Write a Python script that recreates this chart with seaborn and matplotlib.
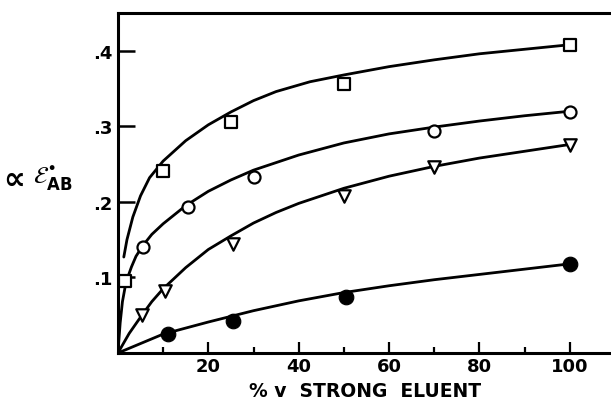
import numpy as np
import pandas as pd
import matplotlib
matplotlib.use("Agg")
import matplotlib.pyplot as plt
import seaborn as sns

sns.set_style("ticks")
plt.rcParams["font.family"] = ["DejaVu Sans"]
plt.rcParams["text.color"] = "black"
plt.rcParams["axes.labelcolor"] = "black"
plt.rcParams["xtick.color"] = "black"
plt.rcParams["ytick.color"] = "black"
plt.rcParams["axes.edgecolor"] = "black"

sq_x = [1.5, 10, 25, 50, 100]
sq_y = [0.095, 0.241, 0.306, 0.356, 0.407]
ci_x = [5.5, 15.5, 30, 70, 100]
ci_y = [0.140, 0.193, 0.233, 0.294, 0.319]
tr_x = [5.3, 10.4, 25.4, 50, 70, 100]
tr_y = [0.050, 0.082, 0.144, 0.208, 0.246, 0.275]
fc_x = [11, 25.5, 50.4, 100]
fc_y = [0.025, 0.042, 0.074, 0.118]

# drawn curves, traced by eye
sq_cx = [1.3, 2, 3.3, 5, 7, 10, 15, 20, 25, 30, 35, 42.5, 50, 60, 70, 80, 90, 100]
sq_cy = [0.127, 0.150, 0.180, 0.208, 0.232, 0.254, 0.281, 0.302, 0.319, 0.334,
         0.346, 0.359, 0.368, 0.379, 0.388, 0.396, 0.402, 0.408]
ci_cx = [0, 0.5, 1, 1.8, 3, 4, 5.5, 7.5, 10, 15, 20, 25, 30, 40, 50, 60, 70, 80,
         90, 100]
ci_cy = [0.0, 0.040, 0.068, 0.094, 0.114, 0.128, 0.142, 0.157, 0.171, 0.195,
         0.214, 0.229, 0.242, 0.262, 0.278, 0.290, 0.299, 0.307, 0.314, 0.320]
tr_cx = [0, 2.5, 5.3, 7.5, 10, 15, 20, 25, 30, 35, 40, 50, 60, 70, 80, 90, 100]
tr_cy = [0.0, 0.026, 0.050, 0.068, 0.085, 0.113, 0.137, 0.155, 0.172, 0.186,
         0.198, 0.218, 0.234, 0.247, 0.258, 0.267, 0.276]
fc_cx = [0, 10, 20, 30, 40, 50, 60, 70, 80, 90, 100]
fc_cy = [0.0, 0.025, 0.041, 0.056, 0.069, 0.080, 0.089, 0.097, 0.104, 0.111, 0.118]

fig = plt.figure(figsize=(6.11, 4.02), dpi=100)
ax = fig.add_axes([0.193, 0.1194, 0.807, 0.8458])

for cx, cy in [(sq_cx, sq_cy), (ci_cx, ci_cy), (tr_cx, tr_cy), (fc_cx, fc_cy)]:
    sns.lineplot(x=cx, y=cy, ax=ax, color="black", linewidth=2, sort=False)

sns.scatterplot(x=sq_x, y=sq_y, ax=ax, marker="s", s=70, facecolor="white",
                edgecolor="black", linewidth=1.6, zorder=5)
sns.scatterplot(x=ci_x, y=ci_y, ax=ax, marker="o", s=75, facecolor="white",
                edgecolor="black", linewidth=1.6, zorder=5)
sns.scatterplot(x=tr_x, y=tr_y, ax=ax, marker="v", s=80, facecolor="white",
                edgecolor="black", linewidth=1.6, zorder=5)
sns.scatterplot(x=fc_x, y=fc_y, ax=ax, marker="o", s=110, color="black",
                edgecolor="black", zorder=5)

ax.set_xlim(0, 109.1)
ax.set_ylim(0, 0.450)
ax.set_xticks([20, 40, 60, 80, 100])
ax.set_xticks([10, 30, 50, 70, 90], minor=True)
ax.set_yticks([0.1, 0.2, 0.3, 0.4])
ax.set_yticklabels([".1", ".2", ".3", ".4"])
ax.tick_params(axis="x", which="major", direction="in", length=8, width=1.6,
               labelsize=13, pad=3)
ax.tick_params(axis="x", which="minor", direction="in", length=4.5, width=1.6)
ax.tick_params(axis="y", direction="in", length=12, width=1.8, labelsize=13, pad=4)
for lab in ax.get_xticklabels() + ax.get_yticklabels():
    lab.set_fontweight("bold")

for side in ["left", "bottom", "top"]:
    ax.spines[side].set_linewidth(2.2)
ax.spines["right"].set_visible(False)

ax.set_xlabel("% v  STRONG  ELUENT", fontsize=13.5, fontweight="bold")
ax.xaxis.set_label_coords(0.501, -0.109)
ax.xaxis.label.set_va("center")

# y label: big "proportional" sign, then E with dot and AB subscript
ax.set_ylabel(r"$\mathcal{E}^{\bullet}_{\mathbf{AB}}$", fontsize=17,
              rotation=0, va="center", ha="left")
ax.yaxis.set_label_coords(-0.172, 0.515)
ax.text(-0.21, 0.51, "\u221d", transform=ax.transAxes, fontsize=22,
        fontweight="bold", ha="center", va="center")

fig.savefig("out.png", dpi=100)
